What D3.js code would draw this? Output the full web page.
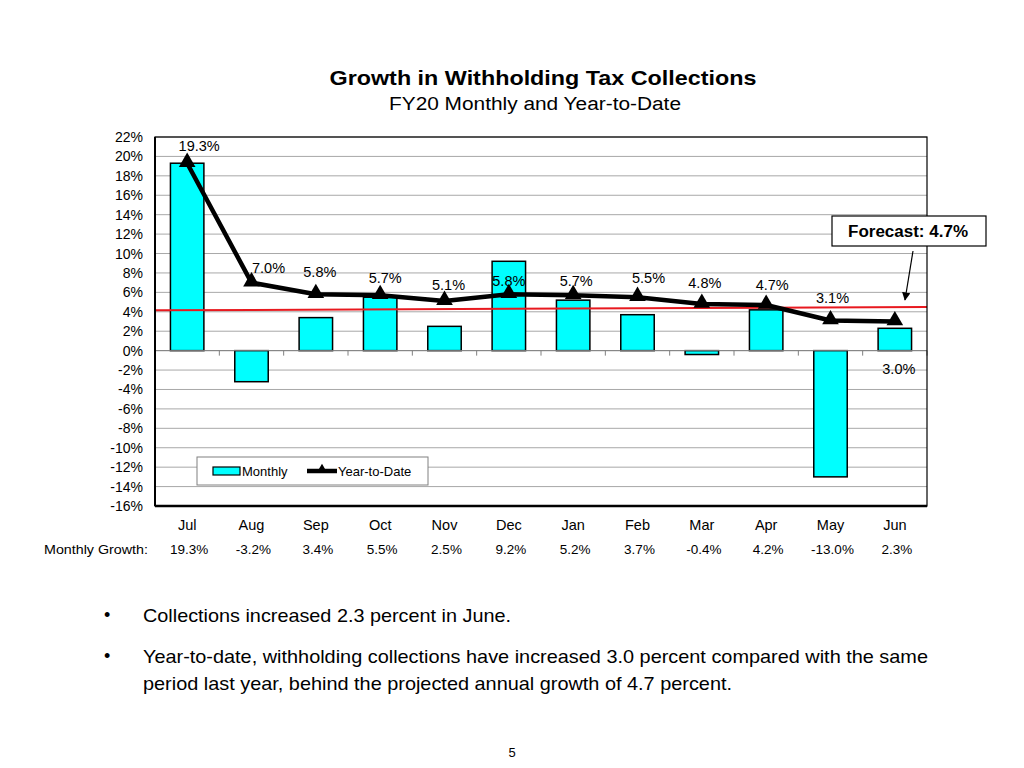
<!DOCTYPE html>
<html>
<head>
<meta charset="utf-8">
<script src="https://cdn.jsdelivr.net/npm/d3@7"></script>
<style>
  body { margin: 0; background: #fff; }
  svg { font-family: "Liberation Sans", Arial, sans-serif; }
</style>
</head>
<body>
<svg id="chart" width="1024" height="768"></svg>
<script>
// data
var months = ["Jul", "Aug", "Sep", "Oct", "Nov", "Dec", "Jan", "Feb", "Mar", "Apr", "May", "Jun"];
var monthly = [19.3, -3.2, 3.4, 5.5, 2.5, 9.2, 5.2, 3.7, -0.4, 4.2, -13.0, 2.3];
var ytd = [19.3, 7.0, 5.8, 5.7, 5.1, 5.8, 5.7, 5.5, 4.8, 4.7, 3.1, 3.0];
var yTicks = [22, 20, 18, 16, 14, 12, 10, 8, 6, 4, 2, 0, -2, -4, -6, -8, -10, -12, -14, -16];
var forecastLine = [4.15, 4.5]; // red reference line, start and end
var forecast = 4.7;

// label nudges for the year-to-date values (pixels)
var labelNudge = [[12,-17],[17,-15],[4,-22],[5,-17],[4,-16],[0,-13],[3,-14],[11,-19],[3,-21],[6,-20],[2,-23],[4,47]];

var margin = {top: 137, left: 155},
    width = 927 - 155,
    height = 506 - 137;

var svg = d3.select("#chart");
var g = svg.append("g")
    .attr("transform", "translate(" + margin.left + "," + margin.top + ")");

var x = d3.scaleBand()
    .domain(months)
    .range([0, width])
    .paddingInner(0.48)
    .paddingOuter(0.24);

var y = d3.scaleLinear()
    .domain([-16, 22])
    .range([height, 0]);

// title
svg.append("text")
    .attr("x", 543).attr("y", 85)
    .attr("text-anchor", "middle")
    .style("font-size", "21px").style("font-weight", "bold")
    .attr("textLength", 427).attr("lengthAdjust", "spacingAndGlyphs")
    .text("Growth in Withholding Tax Collections");
svg.append("text")
    .attr("x", 535).attr("y", 110)
    .attr("text-anchor", "middle")
    .style("font-size", "18px")
    .attr("textLength", 292).attr("lengthAdjust", "spacingAndGlyphs")
    .text("FY20 Monthly and Year-to-Date");

// gridlines
g.selectAll(".grid")
    .data(yTicks)
    .enter()
    .append("line")
    .attr("x1", 0).attr("x2", width)
    .attr("y1", function(d) { return y(d); })
    .attr("y2", function(d) { return y(d); })
    .attr("stroke", "#a8a8a8")
    .attr("stroke-width", 1);

// y axis
var yAxis = g.append("g")
    .call(d3.axisLeft(y).tickValues(yTicks).tickSize(0).tickPadding(12)
        .tickFormat(function(d) { return d + "%"; }));
yAxis.select(".domain").remove();
yAxis.selectAll("text").style("font-size", "14px").attr("fill", "#000");

// category ticks along the zero line
g.append("g")
    .selectAll("line")
    .data(d3.range(months.length + 1))
    .enter()
    .append("line")
    .attr("x1", function(i) { return i * width / months.length; })
    .attr("x2", function(i) { return i * width / months.length; })
    .attr("y1", y(0)).attr("y2", y(0) + 5)
    .attr("stroke", "#808080");

// bars
g.selectAll(".bar")
    .data(monthly)
    .enter()
    .append("rect")
    .attr("x", function(d, i) { return x(months[i]); })
    .attr("width", x.bandwidth())
    .attr("y", function(d) { return y(Math.max(0, d)); })
    .attr("height", function(d) { return Math.abs(y(d) - y(0)); })
    .attr("fill", "#00ffff")
    .attr("stroke", "#000")
    .attr("stroke-width", 1.5);

g.append("line")
    .attr("x1", 0).attr("x2", width)
    .attr("y1", y(0)).attr("y2", y(0))
    .attr("stroke", "#808080");

// red forecast reference line
g.append("line")
    .attr("x1", 0).attr("x2", width)
    .attr("y1", y(forecastLine[0])).attr("y2", y(forecastLine[1]))
    .attr("stroke", "#e8191f")
    .attr("stroke-width", 2);

// year-to-date line
var cx = function(i) { return x(months[i]) + x.bandwidth() / 2; };
var line = d3.line()
    .x(function(d, i) { return cx(i); })
    .y(function(d) { return y(d); });

g.append("path")
    .datum(ytd)
    .attr("d", line)
    .attr("fill", "none")
    .attr("stroke", "#000")
    .attr("stroke-width", 4.5)
    .attr("stroke-linejoin", "round");

var tri = d3.symbol().type(d3.symbolTriangle).size(120);
g.selectAll(".marker")
    .data(ytd)
    .enter()
    .append("path")
    .attr("d", tri)
    .attr("transform", function(d, i) { return "translate(" + cx(i) + "," + (y(d) - 1) + ")"; })
    .attr("fill", "#000");

g.selectAll(".ytdlabel")
    .data(ytd)
    .enter()
    .append("text")
    .attr("x", function(d, i) { return cx(i) + labelNudge[i][0]; })
    .attr("y", function(d, i) { return y(d) + labelNudge[i][1] + 5; })
    .attr("text-anchor", "middle")
    .style("font-size", "14.5px")
    .text(function(d) { return d.toFixed(1) + "%"; });

// plot border
g.append("rect")
    .attr("width", width).attr("height", height)
    .attr("fill", "none")
    .attr("stroke", "#000")
    .attr("stroke-width", 1.2);
g.append("line").attr("x1", 0).attr("x2", 0).attr("y1", 0).attr("y2", height)
    .attr("stroke", "#000").attr("stroke-width", 2);
g.append("line").attr("x1", 0).attr("x2", width).attr("y1", height).attr("y2", height)
    .attr("stroke", "#000").attr("stroke-width", 2.5);

// legend
var lg = g.append("g").attr("transform", "translate(42," + (457 - margin.top) + ")");
lg.append("rect").attr("width", 231).attr("height", 28)
    .attr("fill", "#fff").attr("stroke", "#808080");
lg.append("rect").attr("x", 16).attr("y", 10).attr("width", 27).attr("height", 8)
    .attr("fill", "#00ffff").attr("stroke", "#000").attr("stroke-width", 1.2);
lg.append("text").attr("x", 45).attr("y", 19).style("font-size", "13px").text("Monthly");
lg.append("line").attr("x1", 110).attr("x2", 140).attr("y1", 14).attr("y2", 14)
    .attr("stroke", "#000").attr("stroke-width", 4.5);
lg.append("path").attr("d", d3.symbol().type(d3.symbolTriangle).size(50))
    .attr("transform", "translate(125,13)");
lg.append("text").attr("x", 141).attr("y", 19).style("font-size", "13px").text("Year-to-Date");

// month labels and monthly growth row
g.selectAll(".month")
    .data(months)
    .enter()
    .append("text")
    .attr("x", function(d, i) { return cx(i); })
    .attr("y", 530 - margin.top)
    .attr("text-anchor", "middle")
    .style("font-size", "14.5px")
    .text(function(d) { return d; });

svg.append("text")
    .attr("x", 44).attr("y", 554)
    .style("font-size", "13.5px")
    .attr("textLength", 104).attr("lengthAdjust", "spacingAndGlyphs")
    .text("Monthly Growth:");

g.selectAll(".mg")
    .data(monthly)
    .enter()
    .append("text")
    .attr("x", function(d, i) { return cx(i) + 2; })
    .attr("y", 554 - margin.top)
    .attr("text-anchor", "middle")
    .style("font-size", "13.5px")
    .text(function(d) { return d.toFixed(1) + "%"; });

// forecast callout
svg.append("rect")
    .attr("x", 832).attr("y", 216).attr("width", 154).attr("height", 30)
    .attr("fill", "#fff").attr("stroke", "#000").attr("stroke-width", 1.2);
svg.append("text")
    .attr("x", 908).attr("y", 237)
    .attr("text-anchor", "middle")
    .style("font-size", "16px").style("font-weight", "bold")
    .attr("textLength", 120).attr("lengthAdjust", "spacingAndGlyphs")
    .text("Forecast: " + forecast.toFixed(1) + "%");

svg.append("defs").append("marker")
    .attr("id", "arrow")
    .attr("viewBox", "0 0 10 10")
    .attr("refX", 9).attr("refY", 5)
    .attr("markerWidth", 7).attr("markerHeight", 7)
    .attr("orient", "auto")
    .append("path").attr("d", "M0,0L10,5L0,10z").attr("fill", "#000");
svg.append("line")
    .attr("x1", 913).attr("y1", 251).attr("x2", 905).attr("y2", 300)
    .attr("stroke", "#000").attr("stroke-width", 1.2)
    .attr("marker-end", "url(#arrow)");

// bullets
var bullets = [
  ["Collections increased 2.3 percent in June."],
  ["Year-to-date, withholding collections have increased 3.0 percent compared with the same",
   "period last year, behind the projected annual growth of 4.7 percent."]
];
var bulletY = [622, 663];
var bulletLen = [[368], [785, 589]];
bullets.forEach(function(lines, b) {
  svg.append("text").attr("x", 104).attr("y", bulletY[b] - 1)
      .style("font-size", "18px").text("\u2022");
  lines.forEach(function(t, k) {
    svg.append("text")
        .attr("x", 143).attr("y", bulletY[b] + k * 27)
        .style("font-size", "18.5px")
        .attr("textLength", bulletLen[b][k])
        .attr("lengthAdjust", "spacingAndGlyphs")
        .text(t);
  });
});

svg.append("text")
    .attr("x", 512).attr("y", 757)
    .attr("text-anchor", "middle")
    .style("font-size", "13px")
    .text("5");
</script>
</body>
</html>
